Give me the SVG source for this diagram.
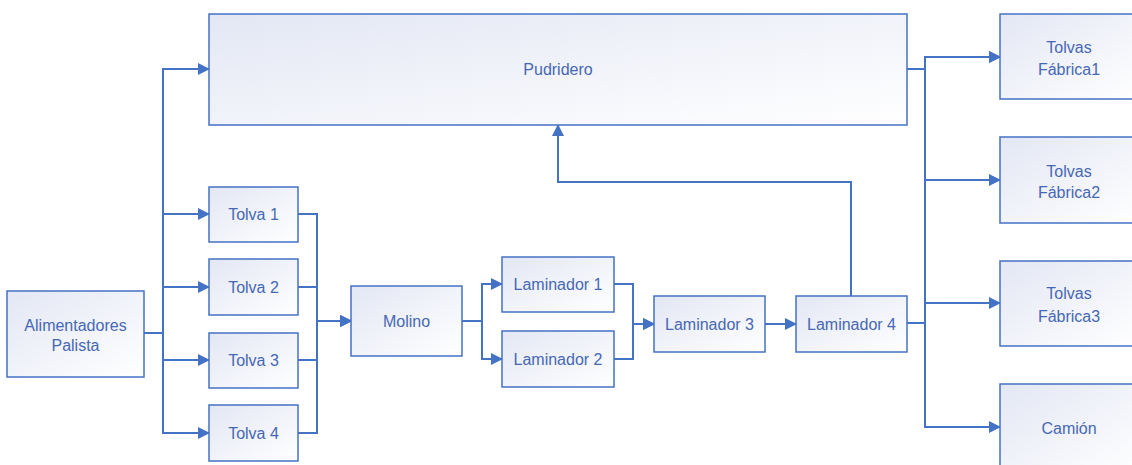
<svg xmlns="http://www.w3.org/2000/svg" width="1132" height="465" viewBox="0 0 1132 465">
<defs>
<linearGradient id="g" x1="0" y1="0" x2="1" y2="1">
<stop offset="0" stop-color="#e3e7f4"/>
<stop offset="1" stop-color="#ffffff"/>
</linearGradient>
<marker id="ah" markerUnits="userSpaceOnUse" markerWidth="12" markerHeight="12" viewBox="0 0 12 12" refX="11" refY="6" orient="auto">
<path d="M0,0 L12,6 L0,12 Z" fill="#4472c4"/>
</marker>
<style>
.box{fill:url(#g);stroke:#4472c4;stroke-width:1.5}
.t{font-family:"Liberation Sans",Arial,sans-serif;font-size:16px;fill:#4668b4;text-anchor:middle}
.c{fill:none;stroke:#4472c4;stroke-width:2}
.a{marker-end:url(#ah)}
</style>
</defs>
<rect width="1132" height="465" fill="#ffffff"/>
<g id="connectors">
<path class="c a" d="M144,333 H163 V69 H209"/>
<path class="c a" d="M144,333 H163 V214 H209"/>
<path class="c a" d="M144,333 H163 V287 H209"/>
<path class="c a" d="M144,333 H163 V360 H209"/>
<path class="c a" d="M144,333 H163 V433 H209"/>
<path class="c a" d="M298,214 H317 V321 H351"/>
<path class="c a" d="M298,287 H317 V321 H351"/>
<path class="c a" d="M298,360 H317 V321 H351"/>
<path class="c a" d="M298,433 H317 V321 H351"/>
<path class="c a" d="M462,321 H482 V284 H502"/>
<path class="c a" d="M462,321 H482 V359 H502"/>
<path class="c a" d="M614,284 H633 V324 H654"/>
<path class="c a" d="M614,359 H633 V324 H654"/>
<path class="c a" d="M765,324 H796"/>
<path class="c a" d="M851,296 V182 H558 V125"/>
<path class="c a" d="M907,69 H925 V57 H1000"/>
<path class="c a" d="M907,323 H925 V57 H1000"/>
<path class="c a" d="M907,323 H925 V180 H1000"/>
<path class="c a" d="M907,323 H925 V303 H1000"/>
<path class="c a" d="M907,323 H925 V427 H1000"/>
</g>
<g id="alimentadores"><rect class="box" x="7" y="291" width="137" height="86"/><text class="t" x="75.5" y="331">Alimentadores</text><text class="t" x="75.5" y="351">Palista</text></g>
<g id="pudridero"><rect class="box" x="209" y="14" width="698" height="111"/><text class="t" x="558" y="75">Pudridero</text></g>
<g id="tolva1"><rect class="box" x="209" y="187" width="89" height="55"/><text class="t" x="253.5" y="220">Tolva 1</text></g>
<g id="tolva2"><rect class="box" x="209" y="259" width="89" height="56"/><text class="t" x="253.5" y="293">Tolva 2</text></g>
<g id="tolva3"><rect class="box" x="209" y="333" width="89" height="55"/><text class="t" x="253.5" y="366">Tolva 3</text></g>
<g id="tolva4"><rect class="box" x="209" y="405" width="89" height="56"/><text class="t" x="253.5" y="439">Tolva 4</text></g>
<g id="molino"><rect class="box" x="351" y="286" width="111" height="70"/><text class="t" x="406.5" y="327">Molino</text></g>
<g id="laminador1"><rect class="box" x="502" y="257" width="112" height="55"/><text class="t" x="558" y="290">Laminador 1</text></g>
<g id="laminador2"><rect class="box" x="502" y="331" width="112" height="56"/><text class="t" x="558" y="365">Laminador 2</text></g>
<g id="laminador3"><rect class="box" x="654" y="296" width="111" height="56"/><text class="t" x="709.5" y="330">Laminador 3</text></g>
<g id="laminador4"><rect class="box" x="796" y="296" width="111" height="56"/><text class="t" x="851.5" y="330">Laminador 4</text></g>
<g id="fabrica1"><rect class="box" x="1000" y="14" width="140" height="85"/><text class="t" x="1069" y="53">Tolvas</text><text class="t" x="1069" y="75">Fábrica1</text></g>
<g id="fabrica2"><rect class="box" x="1000" y="137" width="140" height="86"/><text class="t" x="1069" y="177">Tolvas</text><text class="t" x="1069" y="198">Fábrica2</text></g>
<g id="fabrica3"><rect class="box" x="1000" y="261" width="140" height="85"/><text class="t" x="1069" y="299">Tolvas</text><text class="t" x="1069" y="322">Fábrica3</text></g>
<g id="camion"><rect class="box" x="1000" y="384" width="140" height="90"/><text class="t" x="1069" y="434">Camión</text></g>
</svg>
